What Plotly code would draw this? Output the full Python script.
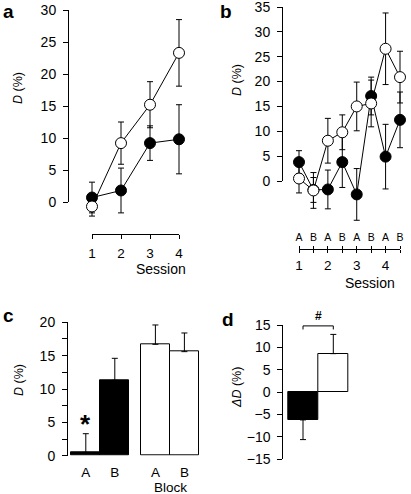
import plotly.graph_objects as go

W, H = 411, 494
FONT = "Liberation Sans, Arial, sans-serif"

# ---------------- data ----------------
# panel a
sessions_a = [1, 2, 3, 4]
a_closed = [0.7, 1.8, 9.2, 9.8]
a_closed_err = [2.4, 3.5, 2.7, 5.4]
a_open = [-0.7, 9.2, 15.2, 23.3]
a_open_err = [1.5, 3.3, 3.6, 5.2]

# panel b
b_blocks = ["A", "B", "A", "B", "A", "B", "A", "B"]
b_sessions = ["1", "", "2", "", "3", "", "4", ""]
b_closed = [3.8, -1.8, -1.7, 3.8, -2.7, 17.1, 4.9, 12.3]
b_closed_err = [2.3, 2.5, 3.9, 5.1, 5.2, 3.8, 6.5, 5.6]
b_open = [0.5, -1.9, 8.1, 9.8, 15.0, 15.6, 26.6, 20.9]
b_open_err = [2.9, 3.6, 4.5, 3.5, 4.9, 4.7, 7.2, 5.2]

# panel c
c_labels = ["A", "B", "A", "B"]
c_group = [0, 0, 1, 1]
c_values = [0.5, 11.3, 16.7, 15.6]
c_err = [2.8, 3.3, 2.9, 2.8]

# panel d
d_values = [-6.2, 8.6]
d_err_up = [0, 4.3]
d_err_down = [4.4, 0]


# ---------------- helpers ----------------
def fx(px):
    return px / W


def fy(py):
    return 1 - py / H


def xr(p0, v0, scale, left, right):
    """range for an axis spanning pixels left..right, where value v0 sits at p0"""
    return [v0 + (left - p0) / scale, v0 + (right - p0) / scale]


def yr(p0, v0, scale, top, bottom):
    return [v0 + (p0 - bottom) / scale, v0 + (p0 - top) / scale]


TICKFONT = dict(family=FONT, size=14, color="black")
XTICKFONT = dict(family=FONT, size=13.5, color="black")
hidden = dict(visible=False, showgrid=False, zeroline=False, fixedrange=True, automargin=False)

fig = go.Figure()


def circles(x, y, err, fill, xa, ya):
    fig.add_trace(go.Scatter(
        x=x, y=y, mode="lines+markers", xaxis=xa, yaxis=ya,
        line=dict(color="black", width=1),
        marker=dict(size=11, color=fill, line=dict(color="black", width=1)),
        error_y=dict(type="data", array=err, visible=True, color="black",
                     thickness=1, width=3),
        showlegend=False, hoverinfo="skip", cliponaxis=False))


def dummy(xa, ya, xs, ys):
    fig.add_trace(go.Scatter(x=xs, y=ys, mode="markers", xaxis=xa, yaxis=ya,
                             marker=dict(opacity=0, size=1), showlegend=False,
                             hoverinfo="skip"))


# ---------------- panel a ----------------
circles(sessions_a, a_closed, a_closed_err, "black", "x", "y")
circles(sessions_a, a_open, a_open_err, "white", "x", "y")
dummy("x2", "y2", [1, 4], [0, 30])

# ---------------- panel b ----------------
bx = list(range(len(b_blocks)))
circles(bx, b_closed, b_closed_err, "black", "x3", "y3")
circles(bx, b_open, b_open_err, "white", "x3", "y3")
dummy("x4", "y4", [0, 7], [0, 35])
dummy("x5", "y4", [0, 7], [0, 35])

# ---------------- panel c ----------------
GROUP_GAP = 0.4
cx = [i + GROUP_GAP * g for i, g in enumerate(c_group)]
fig.add_trace(go.Bar(
    x=cx, y=c_values, width=1, xaxis="x6", yaxis="y5",
    marker=dict(color=["black" if g == 0 else "white" for g in c_group],
                line=dict(color="black", width=1)),
    error_y=dict(type="data", symmetric=False, array=c_err,
                 arrayminus=[0] * len(c_err), color="black", thickness=1, width=3),
    showlegend=False, hoverinfo="skip"))

# ---------------- panel d ----------------
dx = [0, 1]
fig.add_trace(go.Bar(
    x=dx, y=d_values, width=1, xaxis="x7", yaxis="y6",
    marker=dict(color=["black", "white"], line=dict(color="black", width=1)),
    error_y=dict(type="data", symmetric=False, array=d_err_up,
                 arrayminus=d_err_down, color="black", thickness=1, width=3),
    showlegend=False, hoverinfo="skip"))
BR_TOP, BR_LEG = 14.8, 0.8
fig.add_trace(go.Scatter(
    x=[dx[0], dx[0], dx[1], dx[1]],
    y=[BR_TOP - BR_LEG, BR_TOP, BR_TOP, BR_TOP - BR_LEG],
    mode="lines", line=dict(color="black", width=1), xaxis="x7", yaxis="y6",
    showlegend=False, hoverinfo="skip", cliponaxis=False))

# ---------------- layout ----------------
yaxis_disp = dict(showline=True, linecolor="black", linewidth=1, ticks="outside",
                  ticklen=5, tickcolor="black", tickwidth=1, showgrid=False,
                  zeroline=False, tickfont=TICKFONT, ticklabelstandoff=4,
                  fixedrange=True, automargin=False, ticklabeloverflow="allow")
xaxis_disp = dict(showgrid=False, zeroline=False, fixedrange=True, automargin=False,
                  tickcolor="black", linecolor="black", linewidth=1,
                  ticklabeloverflow="allow")

layout = dict(
    width=W, height=H, margin=dict(l=0, r=0, t=0, b=0, autoexpand=False),
    paper_bgcolor="white", plot_bgcolor="rgba(0,0,0,0)",
    font=dict(family=FONT, color="black"),
    # panel a data axes
    xaxis=dict(hidden, domain=[fx(66), fx(195)], range=xr(92, 1, 29, 66, 195), anchor="y"),
    yaxis=dict(hidden, domain=[fy(235), fy(2)], range=yr(202, 0, 6.4, 2, 235), anchor="x"),
    # panel a display axes
    xaxis2=dict(xaxis_disp, domain=[fx(92), fx(179)], range=[1, 4], anchor="free",
                position=fy(234), showline=True, ticks="outside", ticklen=4,
                tickvals=sessions_a, ticktext=[str(s) for s in sessions_a],
                tickfont=XTICKFONT, ticklabelstandoff=3),
    yaxis2=dict(yaxis_disp, domain=[fy(202), fy(10)], range=[0, 30], anchor="free",
                position=fx(68), tickvals=[0, 5, 10, 15, 20, 25, 30]),
    # panel b data axes
    xaxis3=dict(hidden, domain=[fx(282), fx(409)], range=xr(299, 0, 14.43, 282, 409), anchor="y3"),
    yaxis3=dict(hidden, domain=[fy(232), fy(2)], range=yr(181, 0, 4.971, 2, 232), anchor="x3"),
    # panel b display axes
    xaxis4=dict(xaxis_disp, domain=[fx(299), fx(400)], range=[0, 7], anchor="free",
                position=fy(248.5), side="top", showline=True, ticks="outside", ticklen=3,
                tickvals=bx, ticktext=b_blocks,
                tickfont=dict(family=FONT, size=10.5, color="black"), ticklabelstandoff=0),
    xaxis5=dict(xaxis_disp, domain=[fx(299), fx(400)], range=[0, 7], anchor="free",
                position=fy(248.5), side="bottom", showline=False, ticks="outside", ticklen=3,
                tickvals=bx, ticktext=b_sessions, tickfont=XTICKFONT, ticklabelstandoff=1),
    yaxis4=dict(yaxis_disp, domain=[fy(181), fy(7)], range=[0, 35], anchor="free",
                position=fx(282), tickvals=[0, 5, 10, 15, 20, 25, 30, 35]),
    # panel c
    xaxis6=dict(xaxis_disp, domain=[fx(68), fx(205)], range=xr(85.8, 0, 29, 68, 205),
                anchor="y5", showline=False, ticks="", tickvals=cx, ticktext=c_labels,
                tickfont=dict(family=FONT, size=13.5, color="black"), ticklabelstandoff=7),
    yaxis5=dict(yaxis_disp, domain=[fy(455.7), fy(322.3)], range=[0, 20], anchor="x6",
                tickvals=[0, 2.5, 5, 7.5, 10, 12.5, 15, 17.5, 20],
                ticktext=["0", "", "5", "", "10", "", "15", "", "20"]),
    # panel d
    xaxis7=dict(hidden, domain=[fx(283.3), fx(380)], range=xr(303, 0, 30.3, 283.3, 380), anchor="y6"),
    yaxis6=dict(yaxis_disp, domain=[fy(459.3), fy(325)], range=[-15, 15], anchor="x7",
                tickvals=[-15, -10, -5, 0, 5, 10, 15]),
    bargap=0,
)
fig.update_layout(**layout)


def note(text, x, y, size, bold=False, angle=0, xanchor="center", yanchor="middle"):
    fig.add_annotation(text=f"<b>{text}</b>" if bold else text, xref="paper", yref="paper",
                       x=fx(x), y=fy(y), xanchor=xanchor, yanchor=yanchor, showarrow=False,
                       textangle=angle, font=dict(family=FONT, size=size, color="black"))


# panel letters
note("a", 8, 11, 19, bold=True)
note("b", 226, 11, 19, bold=True)
note("c", 8, 315, 19, bold=True)
note("d", 228, 319, 19, bold=True)
# axis titles
note("<i>D</i> (%)", 18, 88, 12.5, angle=-90)
note("<i>D</i> (%)", 237, 80, 12.5, angle=-90)
note("<i>D</i> (%)", 19, 380, 12.5, angle=-90)
note("<i>ΔD</i> (%)", 237, 387, 12.5, angle=-90)
note("Session", 188, 269, 14, xanchor="right")
note("Session", 370, 283, 14)
note("Block", 170, 487, 13.5)
# significance marks
fig.add_annotation(text="<b>*</b>", x=cx[0], y=c_values[0] + c_err[0] + 2.6, xref="x6", yref="y5",
                   yshift=-8, showarrow=False, font=dict(family=FONT, size=26, color="black"))
fig.add_annotation(text="<b>#</b>", x=(dx[0] + dx[1]) / 2, y=BR_TOP, xref="x7", yref="y6",
                   yanchor="bottom", yshift=1, showarrow=False,
                   font=dict(family=FONT, size=12, color="black"))

fig.write_html("out.html", config={"displayModeBar": False},
               post_script="document.body.style.margin='0';")
